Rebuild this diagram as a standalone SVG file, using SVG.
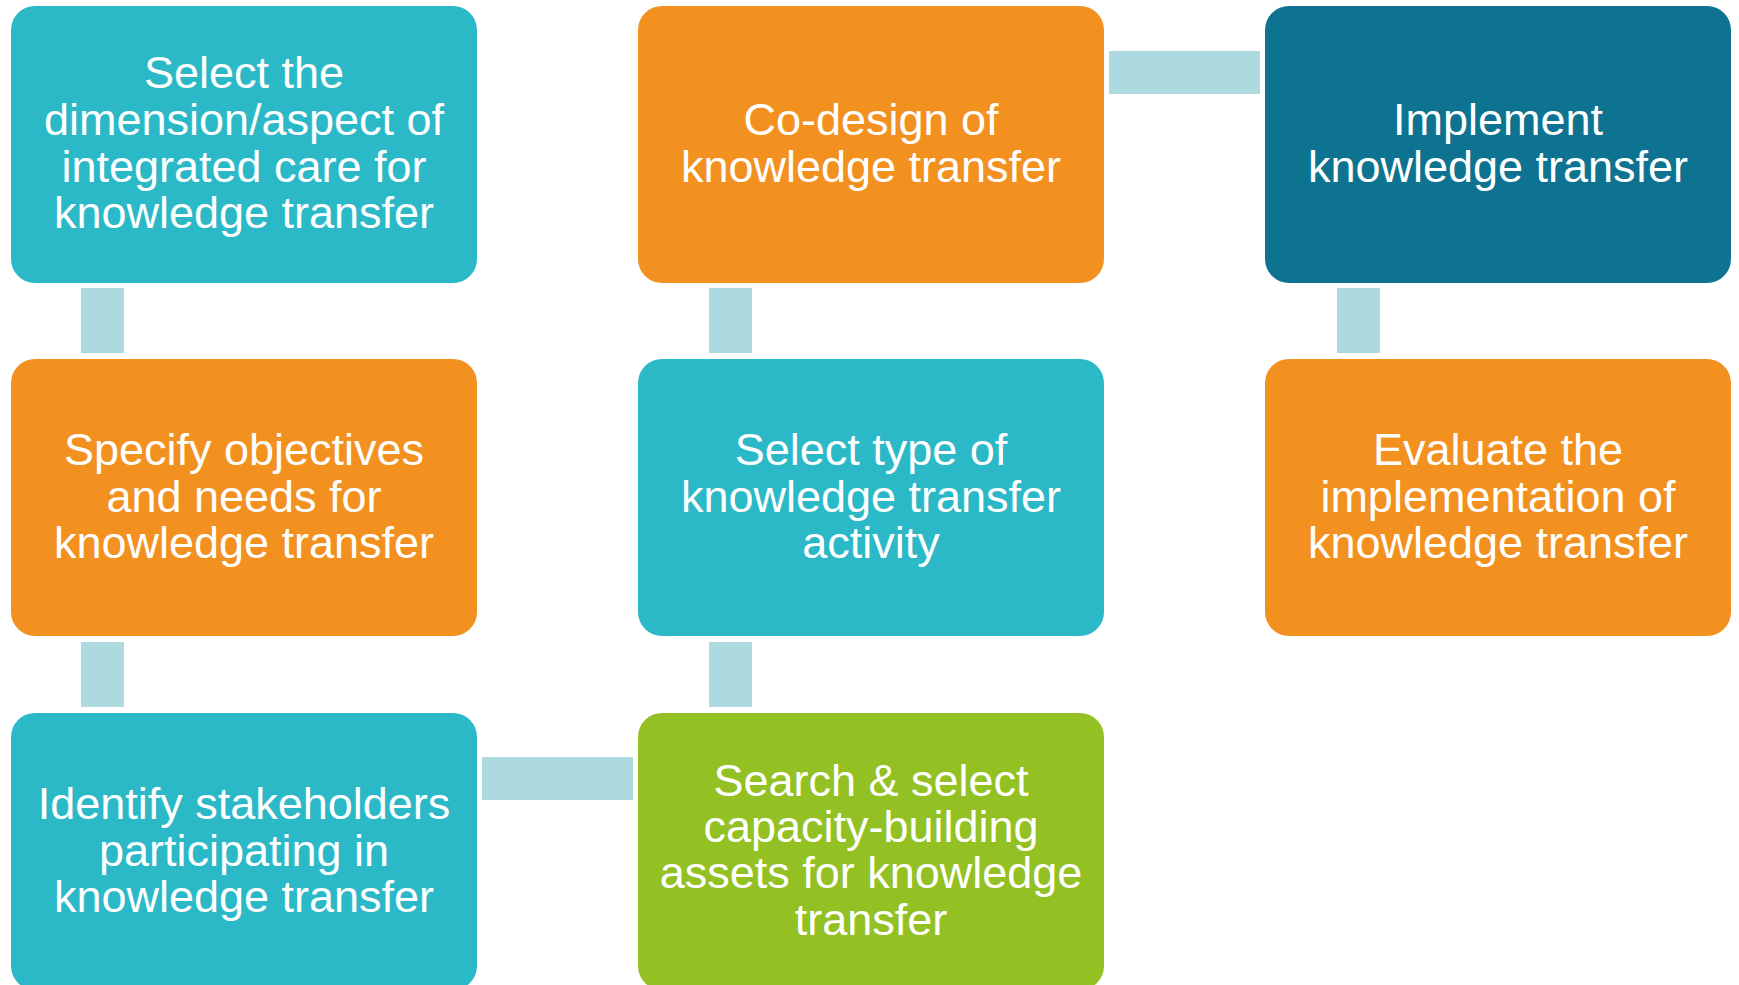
<svg xmlns="http://www.w3.org/2000/svg" width="1739" height="985" viewBox="0 0 1739 985">
<style>
.box{stroke:none}
.teal{fill:#2CB9C7}
.orange{fill:#F29120}
.dark{fill:#0E7390}
.green{fill:#93C123}
.conn{fill:#ADD9DF}
text{font-family:"Liberation Sans",Arial,sans-serif;font-size:45px;fill:#FFFFFF;text-anchor:middle}
</style>
<rect width="1739" height="985" fill="#FFFFFF"/>
<g id="connectors">
<rect class="conn" x="81" y="288" width="43" height="65"/>
<rect class="conn" x="81" y="642" width="43" height="65"/>
<rect class="conn" x="482" y="757" width="151" height="43"/>
<rect class="conn" x="709" y="642" width="43" height="65"/>
<rect class="conn" x="709" y="288" width="43" height="65"/>
<rect class="conn" x="1109" y="51" width="151" height="43"/>
<rect class="conn" x="1337" y="288" width="43" height="65"/>
</g>
<g id="node1">
<rect class="box teal" x="11" y="6" width="466" height="277" rx="24"/>
<text x="244" y="88">Select the</text>
<text x="244" y="135">dimension/aspect of</text>
<text x="244" y="182">integrated care for</text>
<text x="244" y="228">knowledge transfer</text>
</g>
<g id="node2">
<rect class="box orange" x="11" y="359" width="466" height="277" rx="24"/>
<text x="244" y="465">Specify objectives</text>
<text x="244" y="512">and needs for</text>
<text x="244" y="558">knowledge transfer</text>
</g>
<g id="node3">
<rect class="box teal" x="11" y="713" width="466" height="277" rx="24"/>
<text x="244" y="819">Identify stakeholders</text>
<text x="244" y="866">participating in</text>
<text x="244" y="912">knowledge transfer</text>
</g>
<g id="node4">
<rect class="box green" x="638" y="713" width="466" height="277" rx="24"/>
<text x="871" y="796">Search &amp; select</text>
<text x="871" y="842">capacity-building</text>
<text x="871" y="888">assets for knowledge</text>
<text x="871" y="935">transfer</text>
</g>
<g id="node5">
<rect class="box teal" x="638" y="359" width="466" height="277" rx="24"/>
<text x="871" y="465">Select type of</text>
<text x="871" y="512">knowledge transfer</text>
<text x="871" y="558">activity</text>
</g>
<g id="node6">
<rect class="box orange" x="638" y="6" width="466" height="277" rx="24"/>
<text x="871" y="135">Co-design of</text>
<text x="871" y="182">knowledge transfer</text>
</g>
<g id="node7">
<rect class="box dark" x="1265" y="6" width="466" height="277" rx="24"/>
<text x="1498" y="135">Implement</text>
<text x="1498" y="182">knowledge transfer</text>
</g>
<g id="node8">
<rect class="box orange" x="1265" y="359" width="466" height="277" rx="24"/>
<text x="1498" y="465">Evaluate the</text>
<text x="1498" y="512">implementation of</text>
<text x="1498" y="558">knowledge transfer</text>
</g>
</svg>
